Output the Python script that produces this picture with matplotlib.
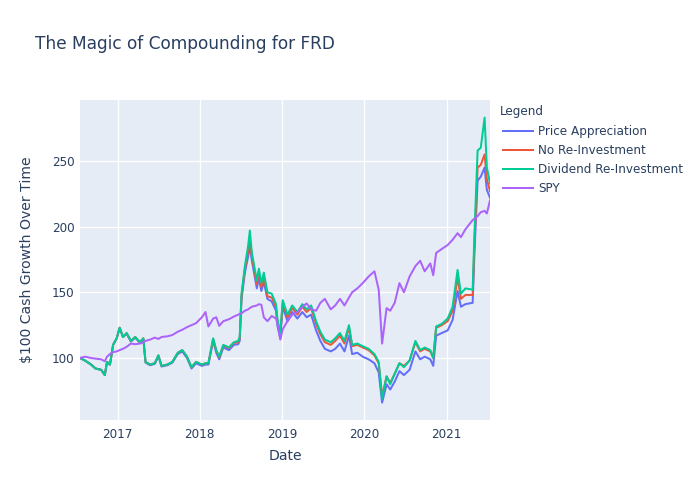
import matplotlib
matplotlib.use("Agg")
import matplotlib.pyplot as plt
import matplotlib.dates as mdates
from matplotlib.lines import Line2D
import pandas as pd

plt.rcParams['font.family'] = ['DejaVu Sans']

dates = ["2016-07-18","2016-08-10","2016-09-05","2016-09-25","2016-10-20","2016-11-05","2016-11-15","2016-11-28",
         "2016-12-12","2016-12-28",
         "2017-01-10","2017-01-25","2017-02-10","2017-03-01","2017-03-20","2017-04-10","2017-04-25","2017-05-05",
         "2017-05-25","2017-06-15","2017-07-01","2017-07-15","2017-08-10","2017-09-01","2017-09-25","2017-10-15",
         "2017-11-05","2017-11-25","2017-12-15",
         "2018-01-10","2018-01-26","2018-02-08","2018-03-01","2018-03-15","2018-03-28","2018-04-15","2018-05-10",
         "2018-06-01","2018-06-20",
         "2018-06-27","2018-07-05","2018-07-20","2018-08-03","2018-08-11","2018-08-20","2018-09-11","2018-09-20",
         "2018-10-01","2018-10-12","2018-10-28","2018-11-16","2018-12-05","2018-12-12","2018-12-24","2019-01-04",
         "2019-01-25","2019-02-15","2019-03-10","2019-04-01","2019-04-20","2019-05-10","2019-06-01","2019-06-20",
         "2019-07-10","2019-08-05","2019-08-25","2019-09-15","2019-10-05","2019-10-25","2019-11-08","2019-12-01",
         "2019-12-25",
         "2020-01-20","2020-02-15","2020-03-05","2020-03-20","2020-04-09","2020-04-25","2020-05-15","2020-06-05",
         "2020-06-25","2020-07-20","2020-08-15","2020-09-05","2020-09-25","2020-10-20","2020-11-02","2020-11-15",
         "2020-12-10",
         "2021-01-05","2021-01-27","2021-02-18","2021-03-05","2021-03-25","2021-04-26","2021-05-04","2021-05-18",
         "2021-06-01","2021-06-18","2021-06-28","2021-07-12"]

dividend_reinvest = [100,98,95,92,91,87,97,95,110,115,
                     123,116,119,113,116,112,115,97,95,96,102,94,95,97,104,106,101,93,97,
                     95,96,96,115,106,101,110,108,112,113,
                     116,149,170,185,197,180,159,168,157,165,150,149,141,129,119,144,
                     133,140,135,141,137,140,128,120,114,112,115,119,113,125,110,111,109,
                     107,103,97,69,86,80,88,96,93,98,113,106,108,106,100,124,126,
                     130,139,167,149,153,152,195,258,260,283,245,233]
no_reinvest = [100,98,95,92,91,87,97,95,110,115,
               123,116,119,113,116,112,115,97,95,96,102,94,95,97,104,106,101,93,97,
               95,96,96,114.5,105.5,100.5,109.5,107.5,111.5,112,
               115,147,168,181,190,177,156,165,154,162,147,146,139,127,117,142,
               131,138,133,139,135,138,126,118,112,110,113,117,111,123,109,110,108,
               106,102,96,71,86,81,88,96,94,98,112,105,107,105,100,123,125,
               128,136,161,145,148,148,187,245,247,255,236,227]
price_apprec = [100,98,95,92,91,87,97,95,110,115,
                123,116,118.5,112.5,115.5,111.5,114.5,96.5,94.5,95.5,101.5,93.5,94.5,96.5,103,105,100,92,96,
                94,95,95,113,104,99,108,106,110,110.5,
                113,145,165,177,185,174,153,161,151,158,145,143,136,124,115,139,
                128,135,130,135,131,133,121,113,107,105,107,111,105,117,103,104,101,
                99,96,89,66,80,76,82,90,87,91,105,99,101,99,94,117,119,
                121,129,151,139,141,142,180,235,238,245,228,222]
spy = [100,101,100,99.5,99,97.5,101,103,104.5,105,
       106,107,108.5,111,110.5,111,112,113,114,115.5,114.5,116,116.5,117.5,120,121.5,123.5,125,126.5,
       131,135,124,130,131,124.5,128,129.5,131.5,133,
       133.5,134,136,137,138,139,140,141,140.5,131,128,132,130,126,114,122,
       128,133,135,139,141.5,137,136,142,145,137,140,145,140,146,150,153,157,
       162,166,152,111,138,136,142,157,150,162,170,174,166,172,163,180,183,
       186,190,195,192,198,205,206,208,211,212,210,220]

series_names = ["Price Appreciation", "No Re-Investment", "Dividend Re-Investment", "SPY"]
series_colors = ["#636EFA", "#EF553B", "#00CC96", "#AB63FA"]

x = pd.to_datetime(dates)
txt = "#2a3f5f"

fig = plt.figure(figsize=(7, 5), dpi=100)
ax = fig.add_axes([80/700, 80/500, 410/700, 320/500])
ax.set_facecolor("#E5ECF6")
lines = []
for vals, name, col in zip([price_apprec, no_reinvest, dividend_reinvest, spy], series_names, series_colors):
    ln, = ax.plot(x, vals, color=col, lw=1.44, label=name, solid_joinstyle='round')
    lines.append(ln)

ax.set_xlim(pd.Timestamp("2016-07-18"), pd.Timestamp("2021-07-12"))
ax.set_ylim(52.8, 296.4)
ax.set_yticks([100, 150, 200, 250])
ax.xaxis.set_major_locator(mdates.YearLocator())
ax.xaxis.set_major_formatter(mdates.DateFormatter("%Y"))
ax.grid(True, color="white", lw=1)
ax.set_axisbelow(True)
for s in ax.spines.values():
    s.set_visible(False)
ax.tick_params(length=0, labelsize=8.64, labelcolor=txt)
ax.tick_params(axis='y', pad=4)
ax.tick_params(axis='x', pad=6)

fig.text(35/700, 1-44/500, "The Magic of Compounding for FRD", fontsize=12.24, color=txt, va='center', ha='left')
fig.text(285/700, 1-456/500, "Date", fontsize=10.08, color=txt, va='center', ha='center')
fig.text(27/700, 1-260/500, "$100 Cash Growth Over Time", fontsize=10.08, color=txt, va='center', ha='center', rotation=90)

# legend
fig.text(500/700, 1-112/500, "Legend", fontsize=8.64, color=txt, va='center', ha='left')
for i, ln in enumerate(lines):
    yy = 1 - (131 + 19*i)/500
    fig.add_artist(Line2D([503/700, 533/700], [yy, yy], color=ln.get_color(), lw=1.44, transform=fig.transFigure))
    fig.text(538/700, yy, ln.get_label(), fontsize=8.64, color=txt, va='center', ha='left')

fig.savefig("out.png", dpi=100)
